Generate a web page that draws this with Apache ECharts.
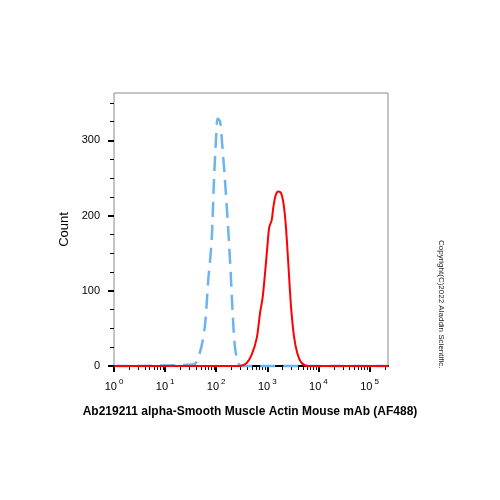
<!DOCTYPE html>
<html>
<head>
<meta charset="utf-8">
<script src="https://cdn.jsdelivr.net/npm/echarts@6/dist/echarts.min.js"></script>
<style>
  html, body { margin: 0; padding: 0; background: #fff; }
  #chart { width: 500px; height: 500px; }
</style>
</head>
<body>
<div id="chart"></div>
<script>
// isotype control (blue dashed) - [intensity, count]
const isoX = [1, 35.7, 48, 60, 70, 81, 90.6, 99, 107, 119, 132, 148, 172, 192, 210, 233, 270, 316, 230000]
const isoY = [0, 2, 18, 53, 115, 164, 248, 301, 329, 325, 292, 248, 181, 124, 70, 25, 4, 0, 0]

// stained sample (red)
const abX = [1, 292, 395, 495, 621, 720, 813, 902, 1000, 1094, 1219, 1310, 1459, 1641, 1853, 2056, 2291, 2576, 2911, 3333, 3866, 4710, 6340, 230000]
const abY = [0, 0, 4, 15, 37, 70, 92, 123, 158, 185, 194, 211, 227, 232, 230, 218, 189, 136, 79, 39, 17, 4, 0, 0]

const xMajor = [1, 10, 100, 1000, 10000, 100000]
const xMinor = [2, 3, 4, 5, 6, 7, 8, 9,
  20, 30, 40, 50, 60, 70, 80, 90,
  200, 300, 400, 500, 600, 700, 800, 900,
  2000, 3000, 4000, 5000, 6000, 7000, 8000, 9000,
  20000, 30000, 40000, 50000, 60000, 70000, 80000, 90000,
  200000]
const yMajor = [0, 100, 200, 300]
const yMinor = [25, 50, 75, 125, 150, 175, 225, 250, 275, 325, 350]

const title = 'Ab219211 alpha-Smooth Muscle Actin Mouse mAb (AF488)'
const copyright = 'Copyright(C)2022 Aladdin Scientific.'

const pairs = (xs, ys) => xs.map((x, i) => [x, ys[i]])

const chart = echarts.init(document.getElementById('chart'))

const xBase = { type: 'log', logBase: 10, min: 1, max: 230000, position: 'bottom', splitLine: { show: false } }
const yBase = { type: 'value', min: 0, max: 363, position: 'left', splitLine: { show: false } }

chart.setOption({
  animation: false,
  textStyle: { fontFamily: 'Liberation Sans, Arial, sans-serif' },
  grid: {
    left: 114,
    right: 112,
    top: 93,
    bottom: 134,
    show: true,
    borderColor: '#8a8a8a',
    borderWidth: 1
  },
  xAxis: [
    Object.assign({}, xBase, {
      axisLine: { show: true, onZero: false, lineStyle: { color: '#000', width: 2 } },
      axisTick: { show: true, length: 6, customValues: xMajor, lineStyle: { color: '#000', width: 2 } },
      axisLabel: {
        margin: 12,
        customValues: xMajor,
        formatter: function (v) {
          return '{b|10}{s|' + Math.round(Math.log10(v)) + '}'
        },
        rich: {
          b: { fontSize: 11, color: '#000', fontFamily: 'Liberation Sans' },
          s: { fontSize: 8, color: '#000', fontFamily: 'Liberation Sans', verticalAlign: 'top', padding: [0, 0, 9, 2] }
        }
      }
    }),
    Object.assign({}, xBase, {
      axisLine: { show: false, onZero: false },
      axisTick: { show: true, length: 4, customValues: xMinor, lineStyle: { color: '#000', width: 1 } },
      axisLabel: { show: false }
    })
  ],
  yAxis: [
    Object.assign({}, yBase, {
      name: 'Count',
      nameLocation: 'middle',
      nameGap: 42,
      nameTextStyle: { fontSize: 13, color: '#000', fontFamily: 'Liberation Sans' },
      axisLine: { show: false },
      axisTick: { show: true, length: 6, customValues: yMajor, lineStyle: { color: '#000', width: 2 } },
      axisLabel: { fontSize: 11, color: '#000', margin: 14, customValues: yMajor }
    }),
    Object.assign({}, yBase, {
      axisLine: { show: false },
      axisTick: { show: true, length: 4, customValues: yMinor, lineStyle: { color: '#000', width: 1 } },
      axisLabel: { show: false }
    })
  ],
  series: [
    {
      name: 'Isotype',
      type: 'line',
      data: pairs(isoX, isoY),
      smooth: 0.3,
      symbol: 'none',
      clip: false,
      z: 2,
      lineStyle: { color: '#6cb4ef', width: 2.5, type: [15, 8] }
    },
    {
      name: 'AF488',
      type: 'line',
      data: pairs(abX, abY),
      smooth: 0.3,
      symbol: 'none',
      clip: false,
      z: 3,
      lineStyle: { color: '#ff0000', width: 2 }
    }
  ],
  graphic: [
    {
      type: 'text',
      left: 'center',
      top: 406,
      style: {
        text: title,
        fontSize: 12,
        fontWeight: 'bold',
        fill: '#000',
        fontFamily: 'Liberation Sans'
      }
    },
    {
      type: 'text',
      x: 445,
      y: 240,
      rotation: -Math.PI / 2,
      style: {
        text: copyright,
        fontSize: 8,
        fill: '#222',
        fontFamily: 'Liberation Sans'
      }
    }
  ]
})
</script>
</body>
</html>
